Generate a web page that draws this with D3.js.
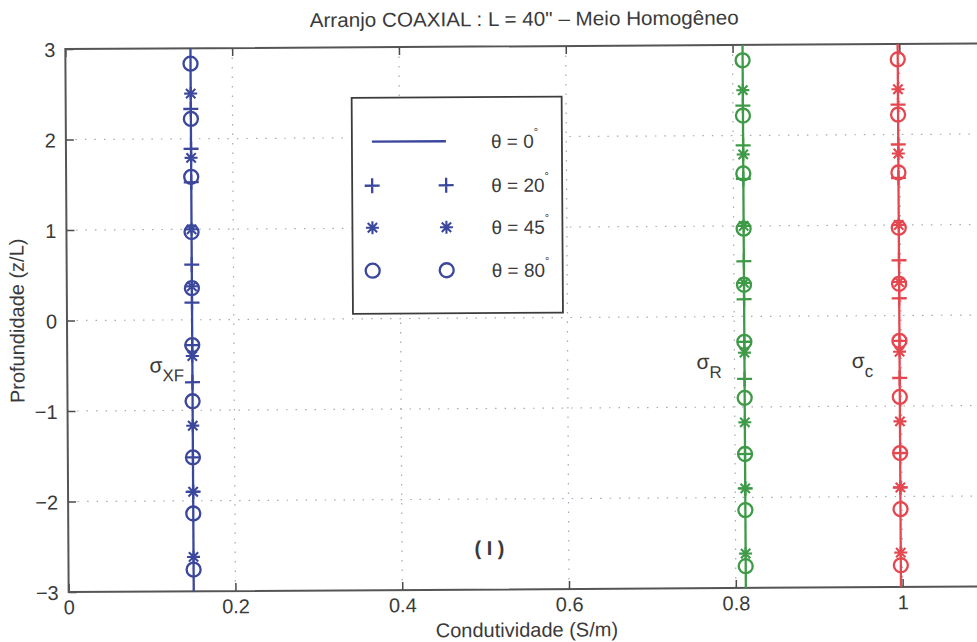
<!DOCTYPE html>
<html>
<head>
<meta charset="utf-8">
<script src="https://cdn.jsdelivr.net/npm/d3@7/dist/d3.min.js"></script>
<style>
  html, body { margin: 0; padding: 0; background: #ffffff; }
  svg { display: block; }
  text { font-family: "Liberation Sans", Arial, Helvetica, sans-serif; fill: #3a3a3a; }
</style>
</head>
<body>
<svg id="chart" width="977" height="642"></svg>
<script>
// Conductivity curves for the three apparent conductivities
const curveNames = ["XF", "R", "c"];
const curveSigma = [0.15, 0.812, 0.998];
const curveColors = ["#3b479c", "#3e9a47", "#e4474f"];

// Depth samples (z/L) for each tool inclination
const zTheta0 = [-3, 3];
const zTheta20 = [2.33, 1.89, 1.52, 0.61, 0.19, -0.28, -0.69, -1.52, -1.90];
const zTheta45 = [2.50, 1.79, 1.00, 0.37, -0.40, -1.17, -1.90, -2.62];
const zTheta80 = [2.83, 2.22, 1.58, 0.97, 0.35, -0.28, -0.90, -1.52, -2.14, -2.76];

const legendLabels = ["0", "20", "45", "80"];
const xTicks = [0, 0.2, 0.4, 0.6, 0.8, 1.0];
const yTicks = [-3, -2, -1, 0, 1, 2, 3];

const svg = d3.select("#chart");
svg.append("rect").attr("width", 977).attr("height", 642).attr("fill", "#ffffff");

const root = svg.append("g").attr("transform", "rotate(-0.35 490 320)");

const x = d3.scaleLinear().domain([0, 1.1]).range([67, 984.4]);
const y = d3.scaleLinear().domain([-3, 3]).range([589.5, 46.5]);

const [x0, x1] = x.range();
const [yb, yt] = y.range();

// dotted grid
const grid = root.append("g").attr("stroke", "#8f93a6").attr("stroke-width", 1.2)
  .attr("stroke-dasharray", "1.5 8").attr("opacity", 0.8);
grid.selectAll("line.gx").data(xTicks.filter(d => d > 0)).join("line")
  .attr("x1", d => x(d)).attr("x2", d => x(d)).attr("y1", yt).attr("y2", yb);
grid.selectAll("line.gy").data(yTicks.filter(d => d > -3 && d < 3)).join("line")
  .attr("x1", x0).attr("x2", x1).attr("y1", d => y(d)).attr("y2", d => y(d));

// axes (ticks pointing inward)
const axisColor = "#4a4a4a";
const gBottom = root.append("g").attr("transform", `translate(0,${yb})`)
  .call(d3.axisBottom(x).tickValues(xTicks).tickSizeInner(-8).tickSizeOuter(0).tickPadding(8)
    .tickFormat(d3.format("~g")));
const gTop = root.append("g").attr("transform", `translate(0,${yt})`)
  .call(d3.axisTop(x).tickValues(xTicks).tickSizeInner(-8).tickSizeOuter(0).tickFormat(""));
const gLeft = root.append("g").attr("transform", `translate(${x0},0)`)
  .call(d3.axisLeft(y).tickValues(yTicks).tickSizeInner(-8).tickSizeOuter(0).tickPadding(10)
    .tickFormat(d3.format("~g")));
[gBottom, gTop, gLeft].forEach(g => {
  g.select(".domain").remove();
  g.selectAll(".tick line").attr("stroke", axisColor).attr("stroke-width", 1.5);
  g.selectAll(".tick text").attr("font-size", 20).attr("fill", "#3a3a3a")
    .attr("font-family", "'Liberation Sans', Arial, sans-serif");
});
gLeft.selectAll(".tick text").attr("dy", "0.36em");

// frame
root.append("path")
  .attr("d", `M${x1},${yt}H${x0}V${yb}H${x1}`)
  .attr("fill", "none").attr("stroke", "#555555").attr("stroke-width", 2);

// marker path builders
function plusPath(cx, cy, s) {
  return `M${cx - s},${cy}H${cx + s}M${cx},${cy - s}V${cy + s}`;
}
function starPath(cx, cy, s) {
  const d = s * 0.72;
  return `M${cx - s},${cy}H${cx + s}M${cx},${cy - s}V${cy + s}` +
    `M${cx - d},${cy - d}L${cx + d},${cy + d}M${cx - d},${cy + d}L${cx + d},${cy - d}`;
}

// curves
curveSigma.forEach((sig, i) => {
  const col = curveColors[i];
  const g = root.append("g").attr("stroke", col).attr("fill", "none").attr("stroke-width", 2.3);
  g.append("path")
    .attr("d", d3.line().x(() => x(sig)).y(d => y(d))(zTheta0));
  g.selectAll("path.p20").data(zTheta20).join("path").attr("class", "p20")
    .attr("d", d => plusPath(x(sig), y(d), 7.5));
  g.selectAll("path.p45").data(zTheta45).join("path").attr("class", "p45")
    .attr("stroke-width", 2.1)
    .attr("d", d => starPath(x(sig), y(d), 6.5));
  g.selectAll("circle.p80").data(zTheta80).join("circle").attr("class", "p80")
    .attr("cx", x(sig)).attr("cy", d => y(d)).attr("r", 7);
});

// sigma labels
const sigmaLabelZ = -0.6;
curveSigma.forEach((sig, i) => {
  const t = root.append("text")
    .attr("x", x(sig) - (i === 0 ? 43 : 48))
    .attr("y", y(sigmaLabelZ) - 2)
    .attr("font-size", 21);
  t.append("tspan").text("σ");
  t.append("tspan").attr("dy", 9).attr("font-size", 17).text(curveNames[i]);
});

// legend
const lg = root.append("g");
lg.append("rect").attr("x", 353).attr("y", 97).attr("width", 210).attr("height", 216)
  .attr("fill", "#ffffff").attr("stroke", "#3c3c3c").attr("stroke-width", 1.8);
const legendY = [141, 185, 227, 270];
const legendCol = curveColors[0];
legendLabels.forEach((lab, k) => {
  const cy = legendY[k];
  const g = lg.append("g").attr("stroke", legendCol).attr("fill", "none").attr("stroke-width", 2.3);
  if (k === 0) {
    g.append("line").attr("x1", 373).attr("x2", 447).attr("y1", cy).attr("y2", cy);
  } else {
    [373, 447].forEach(cx => {
      if (k === 1) g.append("path").attr("d", plusPath(cx, cy, 7.5));
      if (k === 2) g.append("path").attr("stroke-width", 2.1).attr("d", starPath(cx, cy, 6.5));
      if (k === 3) g.append("circle").attr("cx", cx).attr("cy", cy).attr("r", 7);
    });
  }
  const t = lg.append("text").attr("x", 492).attr("y", cy + 7).attr("font-size", 19);
  t.append("tspan").text(`θ = ${lab}`);
  t.append("tspan").attr("dy", -12).attr("font-size", 11).text("°");
});

// panel tag
root.append("text").attr("x", 488).attr("y", 555).attr("text-anchor", "middle")
  .attr("font-size", 20).attr("font-weight", "bold").text("( I )");

// titles
root.append("text").attr("x", 526).attr("y", 26).attr("text-anchor", "middle")
  .attr("font-size", 20).attr("textLength", 429).attr("lengthAdjust", "spacingAndGlyphs")
  .text("Arranjo COAXIAL : L = 40\" – Meio Homogêneo");
root.append("text").attr("x", 525).attr("y", 637).attr("text-anchor", "middle")
  .attr("font-size", 20).text("Condutividade (S/m)");
root.append("text").attr("transform", `translate(24,${y(0)}) rotate(-90)`)
  .attr("text-anchor", "middle").attr("font-size", 20).text("Profundidade (z/L)");
</script>
</body>
</html>
